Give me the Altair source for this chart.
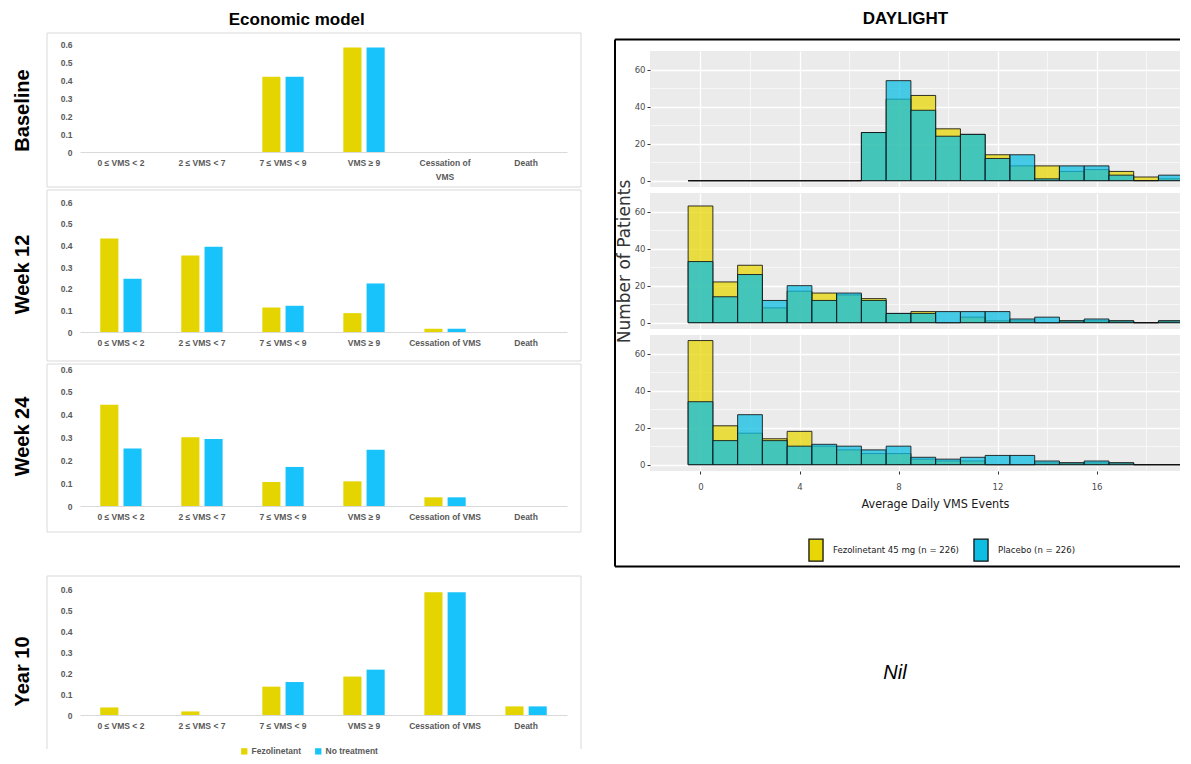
import altair as alt
import pandas as pd

# ---------------- data: economic model ----------------
econ_categories = ["0 ≤ VMS < 2", "2 ≤ VMS < 7", "7 ≤ VMS < 9", "VMS ≥ 9", "Cessation of VMS", "Death"]
econ_groups = ["Fezolinetant", "No treatment"]
econ_colors = ["#E4D400", "#18C3FB"]
econ_y_ticks = [0, 0.1, 0.2, 0.3, 0.4, 0.5, 0.6]

baseline_fezolinetant = [0, 0, 0.418, 0.580, 0, 0]
baseline_no_treatment = [0, 0, 0.418, 0.580, 0, 0]
week12_fezolinetant = [0.431, 0.353, 0.113, 0.087, 0.015, 0]
week12_no_treatment = [0.246, 0.394, 0.121, 0.224, 0.015, 0]
week24_fezolinetant = [0.443, 0.301, 0.105, 0.108, 0.038, 0]
week24_no_treatment = [0.252, 0.293, 0.171, 0.246, 0.038, 0]
year10_fezolinetant = [0.036, 0.017, 0.135, 0.183, 0.584, 0.041]
year10_no_treatment = [0, 0, 0.157, 0.216, 0.584, 0.041]

# ---------------- data: DAYLIGHT histograms ----------------
hist_bins = list(range(20))
hist_arms = ["Fezolinetant 45 mg (n = 226)", "Placebo (n = 226)"]
hist_colors = ["#E7D707", "#0EBEE2"]
hist_x_grid = [0, 2, 4, 6, 8, 10, 12, 14, 16, 18]
hist_y_grid = [0, 10, 20, 30, 40, 50, 60]

baseline_fezo_counts = [0, 0, 0, 0, 0, 0, 0, 26, 44, 46, 28, 25, 14, 8, 8, 5, 6, 5, 2, 1]
baseline_placebo_counts = [0, 0, 0, 0, 0, 0, 0, 26, 54, 38, 24, 25, 12, 14, 1, 8, 8, 3, 0, 3]
week12_fezo_counts = [63, 22, 31, 8, 17, 16, 15, 13, 5, 6, 0, 3, 1, 1, 0, 1, 1, 1, 0, 1]
week12_placebo_counts = [33, 14, 26, 12, 20, 12, 16, 12, 5, 5, 6, 6, 6, 2, 3, 1, 2, 1, 0, 1]
week24_fezo_counts = [67, 21, 17, 14, 18, 10, 8, 6, 6, 3, 2, 2, 0, 0, 1, 1, 1, 1, 0, 0]
week24_placebo_counts = [34, 13, 27, 13, 10, 11, 10, 8, 10, 4, 3, 4, 5, 5, 2, 1, 2, 1, 0, 0]

# ---------------- styling ----------------
FONT = "Liberation Sans"
TFONT = "Liberation Sans Narrow, Liberation Sans"
RFONT = "DejaVu Sans Condensed, DejaVu Sans"
W_L = 487
W_R = 530
H_R = 136
frame_df = pd.DataFrame({"k": [0]})


def econ_panel(label, fezo, none, H, ftop, fbot, title_y, wrap=False, legend=False, closed=True):
    df = pd.DataFrame({
        "cat": econ_categories * 2,
        "grp": [econ_groups[0]] * 6 + [econ_groups[1]] * 6,
        "val": fezo + none,
    })
    lab_expr = "datum.label"
    if wrap:
        lab_expr = "datum.label === 'Cessation of VMS' ? ['Cessation of', 'VMS'] : datum.label"
    xaxis = alt.Axis(title=None, labelAngle=0, labelExpr=lab_expr, labelFont=FONT, labelFontSize=8.5,
                     labelFontWeight="bold", labelColor="#595959", labelPadding=6, labelLineHeight=14,
                     ticks=False, domainColor="#D9D9D9", domainWidth=1, labelOverlap=False, labelLimit=200)
    yaxis = alt.Axis(title=label, titleFont=FONT, titleFontSize=20, titleFontWeight="bold", titleColor="black",
                     titleX=-58, titleY=title_y, titleBaseline="middle", titleAngle=270,
                     values=econ_y_ticks, labelExpr="datum.value === 0 ? '0' : format(datum.value, '.1f')",
                     labelFont=FONT, labelFontSize=8.5, labelFontWeight="bold", labelColor="#595959",
                     labelPadding=8, domain=False, ticks=False, grid=False)
    if legend:
        leg = alt.Legend(orient="none", legendX=160, legendY=158, direction="horizontal", title=None,
                         symbolType="square", symbolSize=40, symbolStrokeWidth=0, labelFont=FONT,
                         labelFontSize=8.5, labelFontWeight="bold", labelColor="#595959",
                         columnPadding=12, labelOffset=3)
    else:
        leg = None
    bars = alt.Chart(df).mark_bar(strokeWidth=0).encode(
        x=alt.X("cat:N", sort=econ_categories, scale=alt.Scale(paddingInner=0.49, paddingOuter=0.25), axis=xaxis),
        xOffset=alt.XOffset("grp:N", sort=econ_groups, scale=alt.Scale(paddingInner=0.22, paddingOuter=0)),
        y=alt.Y("val:Q", scale=alt.Scale(domain=[0, 0.6], nice=False), axis=yaxis),
        color=alt.Color("grp:N", scale=alt.Scale(domain=econ_groups, range=econ_colors), legend=leg),
    )
    if closed:
        frame = alt.Chart(frame_df).mark_rect(fill="white", fillOpacity=0, stroke="#D9D9D9", strokeWidth=1).encode(
            x=alt.value(-33), x2=alt.value(W_L + 14), y=alt.value(ftop), y2=alt.value(fbot))
        layers = [frame, bars]
    else:
        fr = alt.Chart(frame_df).mark_rule(color="#D9D9D9", strokeWidth=1)
        layers = [
            fr.encode(x=alt.value(-33), x2=alt.value(W_L + 14), y=alt.value(ftop)),
            fr.encode(x=alt.value(-33), y=alt.value(ftop), y2=alt.value(fbot)),
            fr.encode(x=alt.value(W_L + 14), y=alt.value(ftop), y2=alt.value(fbot)),
            bars,
        ]
    return alt.layer(*layers).properties(width=W_L, height=H)


def hist_panel(fezo, plac, xlabels=False, ytitle=False, legend=False, decor=False):
    df = pd.DataFrame({
        "bin": hist_bins * 2,
        "count": fezo + plac,
        "arm": [hist_arms[0]] * 20 + [hist_arms[1]] * 20,
    })
    gw_x = {"condition": {"test": "datum.value % 4 === 0", "value": 1.3}, "value": 0.6}
    gw_y = {"condition": {"test": "datum.value % 20 === 0", "value": 1.3}, "value": 0.6}
    to_x = {"condition": {"test": "datum.value % 4 === 0", "value": 1}, "value": 0}
    to_y = {"condition": {"test": "datum.value % 20 === 0", "value": 1}, "value": 0}
    if xlabels:
        xaxis = alt.Axis(values=hist_x_grid, grid=True, gridColor="white", gridWidth=gw_x,
                         labelExpr="datum.value % 4 === 0 ? datum.label : ''", tickOpacity=to_x,
                         tickColor="#333333", tickSize=3, tickWidth=1, labelFont=RFONT, labelFontSize=9.5,
                         labelColor="#4D4D4D", labelPadding=7, domain=False,
                         title="Average Daily VMS Events", titleFont=RFONT, titleFontSize=12.5,
                         titleFontWeight="normal", titleColor="#1A1A1A", titleX=285, titleY=32,
                         titleBaseline="middle")
    else:
        xaxis = alt.Axis(values=hist_x_grid, grid=True, gridColor="white", gridWidth=gw_x,
                         labels=False, ticks=False, domain=False, title=None)
    yaxis = alt.Axis(values=hist_y_grid, grid=True, gridColor="white", gridWidth=gw_y,
                     labelExpr="datum.value % 20 === 0 ? datum.label : ''", tickOpacity=to_y,
                     tickColor="#333333", tickSize=3, tickWidth=1, labelFont=RFONT, labelFontSize=9.5,
                     labelColor="#4D4D4D", labelPadding=2, domain=False,
                     title=("Number of Patients" if ytitle else None), titleFont="DejaVu Sans",
                     titleFontSize=17, titleFontWeight="normal", titleColor="#333333", titleX=-26,
                     titleBaseline="middle")
    if legend:
        leg = alt.Legend(orient="none", legendX=154, legendY=203, direction="horizontal", title=None,
                         symbolType="M-0.64,-1L0.64,-1L0.64,1L-0.64,1Z", symbolSize=484,
                         symbolStrokeColor="#111111", symbolStrokeWidth=1.3, labelFont=RFONT,
                         labelFontSize=9.5, labelColor="#1A1A1A", columnPadding=10, labelOffset=5)
    else:
        leg = None
    bars = alt.Chart(df).transform_calculate(lo="datum.bin - 0.5", hi="datum.bin + 0.5").mark_rect(
        fillOpacity=0.75, stroke="#111111", strokeOpacity=0.85, strokeWidth=1, clip=True).encode(
        x=alt.X("lo:Q", scale=alt.Scale(domain=[-2.04, 19.37], nice=False, zero=False), axis=xaxis),
        x2="hi:Q",
        y=alt.Y("count:Q", scale=alt.Scale(domain=[-3.4, 70], nice=False, zero=False), axis=yaxis),
        y2=alt.datum(0),
        color=alt.Color("arm:N", scale=alt.Scale(domain=hist_arms, range=hist_colors), legend=leg),
    )
    layers = [bars]
    if decor:
        fr = alt.Chart(frame_df).mark_rule(color="black", strokeWidth=2)
        layers += [
            fr.encode(x=alt.value(-35), x2=alt.value(W_R), y=alt.value(-11.5)),
            fr.encode(x=alt.value(-35), y=alt.value(-11.5), y2=alt.value(515.5)),
            fr.encode(x=alt.value(-35), x2=alt.value(W_R), y=alt.value(515.5)),
        ]
    return alt.layer(*layers).properties(width=W_R, height=H_R,
                                         view=alt.ViewBackground(fill="#EBEBEB", strokeWidth=0))


p_base = econ_panel("Baseline", baseline_fezolinetant, baseline_no_treatment, 108, -11, 143, 66, wrap=True)
p_w12 = econ_panel("Week 12", week12_fezolinetant, week12_no_treatment, 130, -12, 159, 72)
p_w24 = econ_panel("Week 24", week24_fezolinetant, week24_no_treatment, 137, -5, 163, 67)
p_y10 = econ_panel("Year 10", year10_fezolinetant, year10_no_treatment, 126, -13, 160, 82,
                   legend=True, closed=False)

inner = alt.vconcat(p_base, p_w12, p_w24, spacing=1).resolve_scale(color="independent")
left = alt.vconcat(inner, p_y10, spacing=42,
                   title=alt.Title("Economic model", font=TFONT, fontSize=17, fontWeight="bold",
                                   color="black", anchor="middle", offset=4)).resolve_scale(color="independent")

spacer = alt.Chart(frame_df).mark_text(text=" ").encode(
    x=alt.value(0), y=alt.value(0)).properties(width=W_R, height=1)
h1 = hist_panel(baseline_fezo_counts, baseline_placebo_counts, decor=True)
h2 = hist_panel(week12_fezo_counts, week12_placebo_counts, ytitle=True)
h3 = hist_panel(week24_fezo_counts, week24_placebo_counts, xlabels=True, legend=True)
nil = alt.Chart(frame_df).mark_text(text="Nil", font=FONT, fontStyle="italic", fontSize=20, color="black",
                                    align="center", baseline="middle").encode(
    x=alt.value(245), y=alt.value(195.5)).properties(width=W_R, height=200)

right = alt.vconcat(spacer, h1, h2, h3, nil, spacing=6, bounds="flush",
                    title=alt.Title("DAYLIGHT", font=TFONT, fontSize=17, fontWeight="bold",
                                    color="black", anchor="middle", offset=10, dx=8)).resolve_scale(color="independent")

chart = alt.hconcat(left, right, spacing=32).resolve_scale(color="independent").properties(
    padding={"left": 4, "top": 2, "right": 0, "bottom": 0}
).configure_view(strokeWidth=0)

chart.save("out.html", embed_options={"renderer": "svg", "actions": False})
